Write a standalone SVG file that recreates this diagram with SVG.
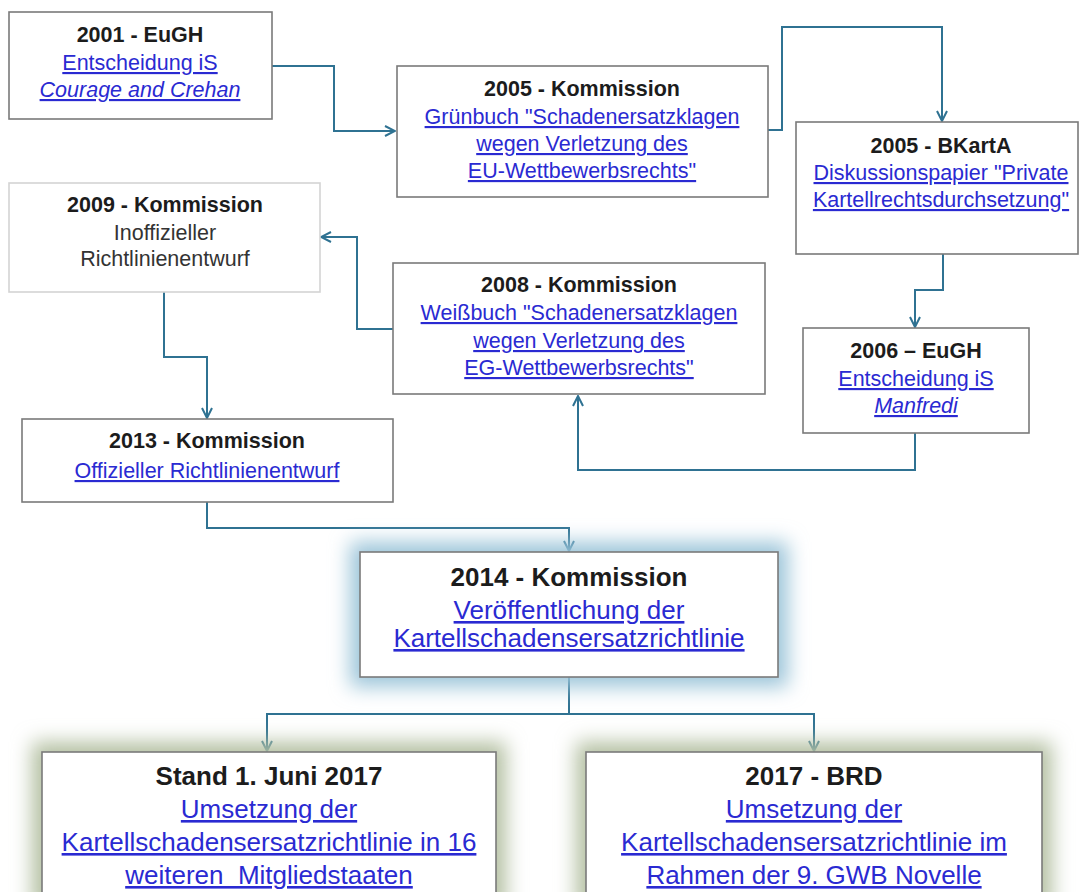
<svg xmlns="http://www.w3.org/2000/svg" width="1080" height="892" viewBox="0 0 1080 892">
<style>
.box{fill:#fff;stroke:#7a7a7a;stroke-width:1.6}
.light{stroke:#d4d4d4}
.t{font-family:"Liberation Sans",Arial,sans-serif;font-weight:bold;font-size:21.5px;fill:#1c1c1c;text-anchor:middle}
.l{font-family:"Liberation Sans",Arial,sans-serif;font-size:21.5px;fill:#2a2ad2;text-anchor:middle;text-decoration:underline}
.p{font-family:"Liberation Sans",Arial,sans-serif;font-size:21.5px;fill:#333;text-anchor:middle}
.big{font-size:26px}
.i{font-style:italic}
.c{fill:none;stroke:#2f7292;stroke-width:2}
</style>
<defs>
<marker id="a" viewBox="0 0 12 12" refX="11" refY="6" markerWidth="12" markerHeight="12" markerUnits="userSpaceOnUse" orient="auto">
<path d="M1,1 L11,6 L1,11" fill="none" stroke="#2f7292" stroke-width="2"/>
</marker>
<filter id="blur" x="-20%" y="-30%" width="140%" height="160%"><feGaussianBlur stdDeviation="10"/></filter>
</defs>
<rect width="1080" height="892" fill="#fff"/>

<g id="connectors">
<path class="c" d="M272,66 H334 V131 H395" marker-end="url(#a)"/>
<path class="c" d="M768,130 H782 V27 H942 V121" marker-end="url(#a)"/>
<path class="c" d="M943,254 V290 H915 V327" marker-end="url(#a)"/>
<path class="c" d="M915,433 V470 H578 V396" marker-end="url(#a)"/>
<path class="c" d="M393,329 H357 V237 H321" marker-end="url(#a)"/>
<path class="c" d="M164,292 V357 H207 V418" marker-end="url(#a)"/>
<path class="c" d="M207,502 V528 H569 V551" marker-end="url(#a)"/>
<path class="c" d="M569,677 V714"/>
<path class="c" d="M569,714 H267 V751" marker-end="url(#a)"/>
<path class="c" d="M569,714 H814 V751" marker-end="url(#a)"/>
</g>

<g id="n2001">
<rect class="box" x="9" y="12" width="263" height="107"/>
<text class="t" x="140" y="42">2001 - EuGH</text>
<text class="l" x="140" y="70">Entscheidung iS</text>
<text class="l i" x="140" y="97">Courage and Crehan</text>
</g>

<g id="n2005k">
<rect class="box" x="397" y="66" width="371" height="131"/>
<text class="t" x="582" y="96">2005 - Kommission</text>
<text class="l" x="582" y="124">Grünbuch "Schadenersatzklagen</text>
<text class="l" x="582" y="151">wegen Verletzung des</text>
<text class="l" x="582" y="178">EU-Wettbewerbsrechts"</text>
</g>

<g id="n2005b">
<rect class="box" x="796" y="122" width="282" height="132"/>
<text class="t" x="941" y="153">2005 - BKartA</text>
<text class="l" x="941" y="180">Diskussionspapier "Private</text>
<text class="l" x="941" y="207">Kartellrechtsdurchsetzung"</text>
</g>

<g id="n2006">
<rect class="box" x="803" y="328" width="226" height="105"/>
<text class="t" x="916" y="358">2006 – EuGH</text>
<text class="l" x="916" y="386">Entscheidung iS</text>
<text class="l i" x="916" y="413">Manfredi</text>
</g>

<g id="n2008">
<rect class="box" x="393" y="263" width="372" height="131"/>
<text class="t" x="579" y="292">2008 - Kommission</text>
<text class="l" x="579" y="320">Weißbuch "Schadenersatzklagen</text>
<text class="l" x="579" y="348">wegen Verletzung des</text>
<text class="l" x="579" y="375">EG-Wettbewerbsrechts"</text>
</g>

<g id="n2009">
<rect class="box light" x="9" y="183" width="311" height="109"/>
<text class="t" x="165" y="212">2009 - Kommission</text>
<text class="p" x="165" y="240">Inoffizieller</text>
<text class="p" x="165" y="266">Richtlinienentwurf</text>
</g>

<g id="n2013">
<rect class="box" x="22" y="419" width="371" height="83"/>
<text class="t" x="207" y="448">2013 - Kommission</text>
<text class="l" x="207" y="478">Offizieller Richtlinienentwurf</text>
</g>

<g id="n2014">
<rect x="350" y="542" width="438" height="145" fill="#9cc5d9" filter="url(#blur)"/>
<rect class="box" x="360" y="552" width="418" height="125"/>
<text class="t big" x="569" y="586">2014 - Kommission</text>
<text class="l big" x="569" y="619">Veröffentlichung der</text>
<text class="l big" x="569" y="647">Kartellschadensersatzrichtlinie</text>
</g>

<g id="n2017s">
<rect x="32" y="742" width="474" height="170" fill="#b4c0a2" filter="url(#blur)"/>
<rect class="box" x="42" y="752" width="454" height="150"/>
<text class="t big" x="269" y="785">Stand 1. Juni 2017</text>
<text class="l big" x="269" y="818">Umsetzung der</text>
<text class="l big" x="269" y="851">Kartellschadensersatzrichtlinie in 16</text>
<text class="l big" x="269" y="884" xml:space="preserve">weiteren  Mitgliedstaaten</text>
</g>

<g id="n2017b">
<rect x="576" y="742" width="476" height="170" fill="#b4c0a2" filter="url(#blur)"/>
<rect class="box" x="586" y="752" width="456" height="150"/>
<text class="t big" x="814" y="785">2017 - BRD</text>
<text class="l big" x="814" y="818">Umsetzung der</text>
<text class="l big" x="814" y="851">Kartellschadensersatzrichtlinie im</text>
<text class="l big" x="814" y="884">Rahmen der 9. GWB Novelle</text>
</g>
</svg>
